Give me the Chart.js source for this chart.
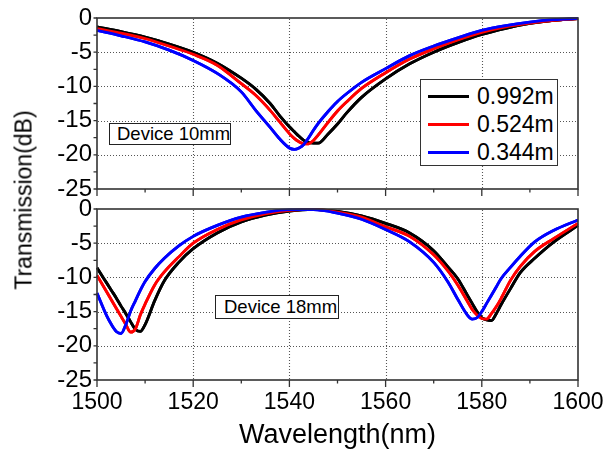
<!DOCTYPE html>
<html>
<head>
<meta charset="utf-8">
<script src="https://cdn.jsdelivr.net/npm/chart.js@4.4.1/dist/chart.umd.min.js"></script>
<style>
  html, body { margin: 0; padding: 0; background: #fff; }
  #fig { position: relative; width: 605px; height: 457px; overflow: hidden;
         font-family: 'Liberation Sans', Arial, sans-serif; color: #000; }
  #fig canvas { position: absolute; left: 0; }
  #c10 { top: 0; }
  #c18 { top: 192px; }
  .tag { position: absolute; border: 1px solid #222; background: #fff; font-size: 18.5px;
         box-sizing: border-box; white-space: nowrap; display: flex; align-items: center; }
  #legend { position: absolute; left: 420px; top: 79px; width: 138px; height: 87px;
            box-sizing: border-box; border: 1px solid #333; background: #fff; padding-top: 2px; }
  .row { height: 28.3px; display: flex; align-items: center; font-size: 23px; }
  .swatch { width: 41px; height: 3px; margin: 0 8px 0 7px; }
  #ytitle { position: absolute; left: 24px; top: 200px; transform: translate(-50%, -50%) rotate(-90deg);
            font-size: 23px; white-space: nowrap; }
</style>
</head>
<body>
<div id="fig">
  <canvas id="c10" width="605" height="198"></canvas>
  <canvas id="c18" width="605" height="265"></canvas>
  <div class="tag" style="left:109px; top:123px; width:122px; height:22px; padding-left:7px;">Device 10mm</div>
  <div class="tag" style="left:215px; top:295px; width:124px; height:24px; padding-left:8px;">Device 18mm</div>
  <div id="legend"></div>
  <div id="ytitle">Transmission(dB)</div>
</div>
<script>
// Fibre lengths of the three measurements and their line colours
const seriesLabels = ['0.992m', '0.524m', '0.344m'];
const seriesColors = ['#000000', '#ff0000', '#0000ff'];

// Device 10mm: wavelength (nm) and transmission (dB)
const wl10 = [1500, 1505, 1510, 1515, 1520, 1525, 1530, 1533, 1536, 1538,
              1540, 1541, 1542, 1543, 1544, 1545, 1546, 1548, 1550, 1552,
              1555, 1560, 1565, 1570, 1575, 1580, 1585, 1590, 1595, 1600];
const t10_0992 = [-1.3, -2.0, -2.8, -3.8, -5.0, -6.6, -8.8, -10.4, -12.5, -14.3,
                  -15.9, -16.6, -17.3, -17.9, -18.2, -18.3, -18.3, -17.0, -15.5, -13.8,
                  -11.6, -8.9, -6.7, -5.0, -3.6, -2.4, -1.5, -0.8, -0.35, -0.1];
const t10_0524 = [-1.55, -2.2, -3.0, -4.1, -5.3, -6.9, -9.6, -11.3, -13.5, -15.2,
                  -16.9, -17.6, -18.1, -18.4, -18.4, -17.9, -17.1, -15.3, -13.6, -12.2,
                  -10.3, -8.0, -6.0, -4.5, -3.2, -2.1, -1.3, -0.75, -0.35, -0.1];
const t10_0344 = [-1.8, -2.6, -3.5, -4.7, -6.2, -8.1, -10.8, -13.5, -16.0, -17.7,
                  -19.0, -19.2, -19.0, -18.5, -17.5, -16.4, -15.4, -13.7, -12.2, -11.0,
                  -9.4, -7.4, -5.5, -4.1, -2.9, -1.8, -1.1, -0.6, -0.25, -0.05];

// Device 18mm: wavelength (nm) and transmission (dB)
const wl18 = [1500, 1502, 1503, 1504, 1505, 1506, 1507, 1508, 1509, 1510,
              1512, 1514, 1517, 1520, 1525, 1530, 1535, 1540, 1545, 1550,
              1555, 1560, 1565, 1570, 1573, 1575, 1577, 1578, 1579, 1580,
              1581, 1582, 1583, 1584, 1586, 1588, 1591, 1595, 1600];
const t18_0992 = [-8.6, -10.8, -11.9, -13.0, -14.2, -15.3, -16.5, -17.6, -17.9, -16.9,
                  -13.4, -10.5, -7.8, -5.8, -3.5, -1.9, -0.9, -0.3, -0.05, -0.35,
                  -1.0, -2.1, -3.5, -6.1, -8.5, -10.2, -12.6, -13.8, -15.0, -15.9,
                  -16.2, -16.3, -15.3, -14.0, -11.6, -9.3, -7.2, -4.8, -2.4];
const t18_0524 = [-9.7, -12.1, -13.3, -14.5, -15.7, -16.9, -18.0, -17.5, -15.5, -13.9,
                  -11.1, -9.2, -7.0, -5.0, -3.0, -1.6, -0.7, -0.2, -0.05, -0.45,
                  -1.2, -2.6, -4.0, -6.7, -9.1, -11.1, -13.5, -14.7, -15.5, -16.0,
                  -16.1, -15.3, -14.3, -13.1, -10.4, -8.4, -6.2, -4.3, -2.1];
const t18_0344 = [-12.3, -15.6, -16.9, -17.9, -18.2, -16.9, -14.9, -13.4, -11.9, -10.6,
                  -8.7, -7.2, -5.4, -4.0, -2.4, -1.2, -0.5, -0.1, -0.1, -0.6,
                  -1.5, -3.0, -4.8, -7.8, -10.7, -13.2, -15.5, -16.1, -15.9, -15.0,
                  -13.8, -12.6, -11.4, -10.2, -8.5, -6.9, -4.8, -3.1, -1.6];

// Axis ticks
const xMajor = [1500, 1520, 1540, 1560, 1580, 1600];
const xMinor = [1510, 1530, 1550, 1570, 1590];
const yMajor = [-25, -20, -15, -10, -5, 0];
const yMinor = [-22.5, -17.5, -12.5, -7.5, -2.5];

const FONT = "'Liberation Sans', Arial, sans-serif";

function makeDatasets(wl, seriesList) {
  return seriesList.map((vals, i) => ({
    label: seriesLabels[i],
    data: wl.map((w, k) => ({ x: w, y: vals[k] })),
    borderColor: seriesColors[i],
    backgroundColor: seriesColors[i],
    borderWidth: 2.8,
    pointRadius: 0,
    cubicInterpolationMode: 'monotone',
    order: seriesList.length - i
  }));
}

// Dotted grid, curves repainted over it, then box frame and outward tick marks
const frameTicks = {
  id: 'frameTicks',
  afterDraw(chart) {
    const { ctx, chartArea: a } = chart;
    const xs = chart.scales.x, ys = chart.scales.y;

    ctx.save();
    ctx.strokeStyle = '#555555';
    ctx.lineWidth = 1.1;
    ctx.setLineDash([1, 2]);
    ctx.beginPath();
    xMajor.slice(1, -1).forEach(v => {
      const p = Math.round(xs.getPixelForValue(v)) + 0.5;
      ctx.moveTo(p, a.top + 1); ctx.lineTo(p, a.bottom - 1);
    });
    yMajor.slice(1, -1).forEach(v => {
      const p = Math.round(ys.getPixelForValue(v)) + 0.5;
      ctx.moveTo(a.left + 1, p); ctx.lineTo(a.right - 1, p);
    });
    ctx.stroke();
    ctx.restore();

    // repaint the series so they sit above the grid (last in the list ends on top)
    const metas = chart.getSortedVisibleDatasetMetas();
    for (let i = metas.length - 1; i >= 0; --i) {
      ctx.save();
      metas[i].controller.draw();
      ctx.restore();
    }

    ctx.save();
    ctx.strokeStyle = '#333';
    ctx.lineWidth = 1.3;
    ctx.beginPath();
    xMajor.forEach(v => { const p = xs.getPixelForValue(v); ctx.moveTo(p, a.bottom); ctx.lineTo(p, a.bottom + 7); });
    xMinor.forEach(v => { const p = xs.getPixelForValue(v); ctx.moveTo(p, a.bottom); ctx.lineTo(p, a.bottom + 3.5); });
    yMajor.concat(yMinor).forEach(v => { const p = ys.getPixelForValue(v); ctx.moveTo(a.left, p); ctx.lineTo(a.left - 3.5, p); });
    ctx.stroke();
    ctx.lineWidth = 1.6;
    ctx.strokeRect(a.left, a.top, a.right - a.left, a.bottom - a.top);
    ctx.restore();
  }
};

function panelOptions(showXLabels, padTop, xHeight) {
  return {
    responsive: false,
    animation: false,
    layout: { padding: { top: padTop, right: 27, left: 0, bottom: 0 } },
    plugins: { legend: { display: false }, tooltip: { enabled: false } },
    scales: {
      x: {
        type: 'linear', min: 1500, max: 1600,
        afterBuildTicks: s => { s.ticks = xMajor.map(v => ({ value: v })); },
        afterFit: s => { s.height = xHeight; s.paddingLeft = 0; s.paddingRight = 0; },
        grid: { display: false, drawTicks: false },
        border: { display: false },
        ticks: {
          display: showXLabels, padding: 9, color: '#000',
          font: { family: FONT, size: 23 },
          callback: v => String(v), maxRotation: 0, autoSkip: false
        },
        title: {
          display: showXLabels, text: 'Wavelength(nm)', color: '#000',
          font: { family: FONT, size: 27 }, padding: { top: 0, bottom: 5 }
        }
      },
      y: {
        type: 'linear', min: -25, max: 0,
        afterBuildTicks: s => { s.ticks = yMajor.map(v => ({ value: v })); },
        afterFit: s => { s.width = 97; s.paddingTop = 0; s.paddingBottom = 0; },
        grid: { display: false, drawTicks: false },
        border: { display: false },
        ticks: {
          padding: 5, color: '#000', font: { family: FONT, size: 24 },
          callback: v => String(v)
        }
      }
    }
  };
}

const chart10 = new Chart(document.getElementById('c10'), {
  type: 'line',
  data: { datasets: makeDatasets(wl10, [t10_0992, t10_0524, t10_0344]) },
  options: panelOptions(false, 18, 9),
  plugins: [frameTicks]
});

new Chart(document.getElementById('c18'), {
  type: 'line',
  data: { datasets: makeDatasets(wl18, [t18_0992, t18_0524, t18_0344]) },
  options: panelOptions(true, 17, 77),
  plugins: [frameTicks]
});

// Legend built from the datasets of the upper panel
const legend = document.getElementById('legend');
chart10.data.datasets.forEach(ds => {
  const row = document.createElement('div');
  row.className = 'row';
  const sw = document.createElement('span');
  sw.className = 'swatch';
  sw.style.background = ds.borderColor;
  const txt = document.createElement('span');
  txt.textContent = ds.label;
  row.appendChild(sw);
  row.appendChild(txt);
  legend.appendChild(row);
});
</script>
</body>
</html>
